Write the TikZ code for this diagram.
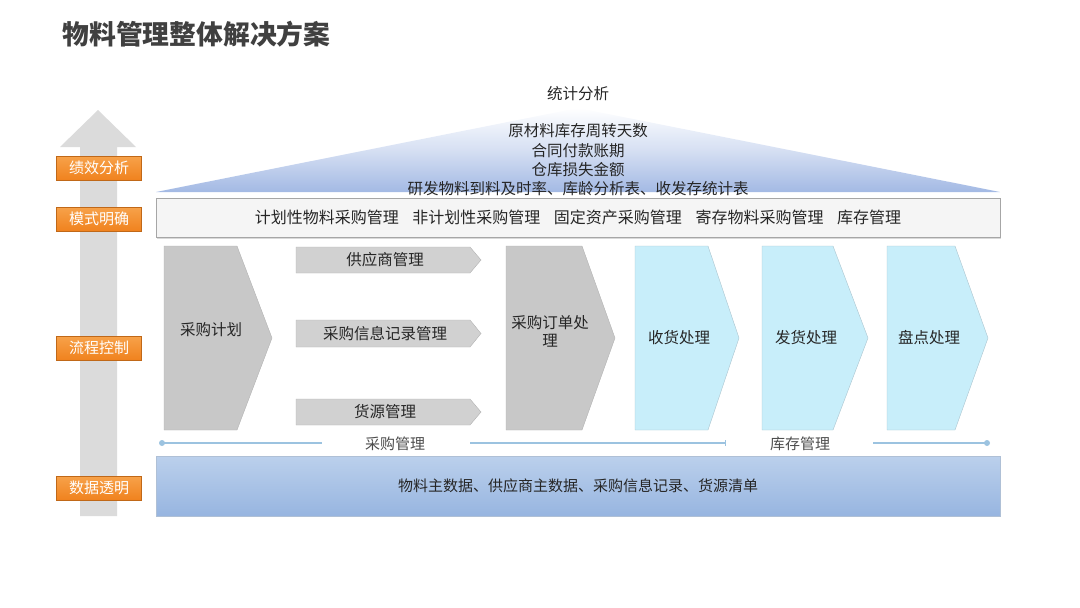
\documentclass[tikz,border=0pt]{standalone}
\usepackage{fontspec}
\setmainfont{Noto Sans CJK SC}
\usepackage{tikz}
\usetikzlibrary{shapes,arrows,positioning,calc,shadows}

\definecolor{orangetag}{HTML}{F0821E}
\definecolor{orangetop}{HTML}{F7A24A}
\definecolor{graybox}{HTML}{C8C8C8}
\definecolor{cyanbox}{HTML}{C8EEFA}
\definecolor{lineblue}{HTML}{9CC3E0}
\definecolor{datatop}{HTML}{BBD0EC}
\definecolor{databot}{HTML}{97B5E0}
\definecolor{roofbot}{HTML}{A3B9E4}

\begin{document}
\begin{tikzpicture}[x=1pt, y=-1pt,
  tag/.style={rectangle, minimum width=85pt, minimum height=24pt, top color=orangetop, bottom color=orangetag, draw=orangetag!80!black, line width=0.3pt, text=white, font=\fontsize{15}{18}\selectfont},
  txt/.style={font=\fontsize{15.5}{19.5}\selectfont, text=black!85},
  grayshape/.style={fill=graybox, draw=gray!60, line width=0.4pt},
  cyanshape/.style={fill=cyanbox, draw=cyan!30!gray!60, line width=0.4pt}]
\useasboundingbox (0,0) rectangle (1080,608);

% 标题
\node[anchor=west, font=\fontsize{26.8}{30}\bfseries\selectfont, text=black!75] (title) at (59,34) {物料管理整体解决方案};

% 左侧箭头
\fill[black!14] (80,516) -- (80,147) -- (60,147) -- (98,110) -- (136,147) -- (117,147) -- (117,516) -- cycle;

% 层级标签
\node[tag] (perf) at (99,168) {绩效分析};
\node[tag] (mode) at (99,219) {模式明确};
\node[tag] (flow) at (99,348) {流程控制};
\node[tag] (data) at (99,488) {数据透明};

% 统计分析
\shade[top color=white, bottom color=roofbot, middle color=roofbot!45, draw=none] (156,192) -- (578,108) -- (1000,192) -- cycle;
\node[txt] (stat) at (578,94) {统计分析};
\node[txt, align=center, font=\fontsize{15.5}{19.3}\selectfont] (kpi) at (578,160) {原材料库存周转天数\\合同付款账期\\仓库损失金额\\研发物料到料及时率、库龄分析表、收发存统计表};

% 模式
\node[draw=gray!70, fill=black!4, rectangle, minimum width=844pt, minimum height=39pt, drop shadow={opacity=0.3, shadow xshift=1pt, shadow yshift=-1.5pt}] (modebox) at (578,217.5) {};
\node[txt, font=\fontsize{16}{19}\selectfont] (modetxt) at (modebox) {计划性物料采购管理\hspace{0.85em}非计划性采购管理\hspace{0.85em}固定资产采购管理\hspace{0.85em}寄存物料采购管理\hspace{0.85em}库存管理};

% 流程
\draw[grayshape] (164,246) -- (237,246) -- (272,338) -- (237,430) -- (164,430) -- cycle;
\node[txt] (plan) at (211,330) {采购计划};

\draw[grayshape, fill=black!18] (296,247) -- (470,247) -- (481,260) -- (470,273) -- (296,273) -- cycle;
\node[txt] (supp) at (385,260) {供应商管理};
\draw[grayshape, fill=black!18] (296,320) -- (470,320) -- (481,333.5) -- (470,347) -- (296,347) -- cycle;
\node[txt] (info) at (385,333.5) {采购信息记录管理};
\draw[grayshape, fill=black!18] (296,399) -- (470,399) -- (481,412) -- (470,425) -- (296,425) -- cycle;
\node[txt] (src) at (385,412) {货源管理};

\draw[grayshape] (506,246) -- (582,246) -- (615,338) -- (582,430) -- (506,430) -- cycle;
\node[txt, align=center, font=\fontsize{15.5}{18}\selectfont] (order) at (550,331) {采购订单处\\理};

\draw[cyanshape] (635,246) -- (708,246) -- (739,338) -- (708,430) -- (635,430) -- cycle;
\node[txt] (recv) at (679,338) {收货处理};
\draw[cyanshape] (762,246) -- (833,246) -- (868,338) -- (833,430) -- (762,430) -- cycle;
\node[txt] (ship) at (806,338) {发货处理};
\draw[cyanshape] (887,246) -- (955,246) -- (988,338) -- (955,430) -- (887,430) -- cycle;
\node[txt] (count) at (929,338) {盘点处理};

% 时间线
\coordinate (tl0) at (162,443);
\coordinate (tl1) at (987,443);
\node[txt, font=\fontsize{15}{18}\selectfont, text=black!70] (purch) at (395,444) {采购管理};
\node[txt, font=\fontsize{15}{18}\selectfont, text=black!70] (stock) at (800,444) {库存管理};
\coordinate (tlmid) at (725,443);
\draw[lineblue, line width=1.5pt] (tl0) -- (322,443);
\draw[lineblue, line width=1.5pt] (470,443) -- (tlmid);
\draw[lineblue, line width=0.8pt] ($(tlmid)+(0,-3)$) -- ($(tlmid)+(0,3)$);
\draw[lineblue, line width=1.5pt] (873,443) -- (tl1);
\fill[lineblue] (tl0) circle (3pt);
\fill[lineblue] (tl1) circle (3pt);

% 数据
\node[rectangle, minimum width=844pt, minimum height=60pt, top color=datatop, bottom color=databot, draw=datatop!80!gray, line width=0.3pt] (databox) at (578,486) {};
\node[txt, font=\fontsize{15}{18}\selectfont] (datatxt) at (databox) {物料主数据、供应商主数据、采购信息记录、货源清单};
\end{tikzpicture}
\end{document}
